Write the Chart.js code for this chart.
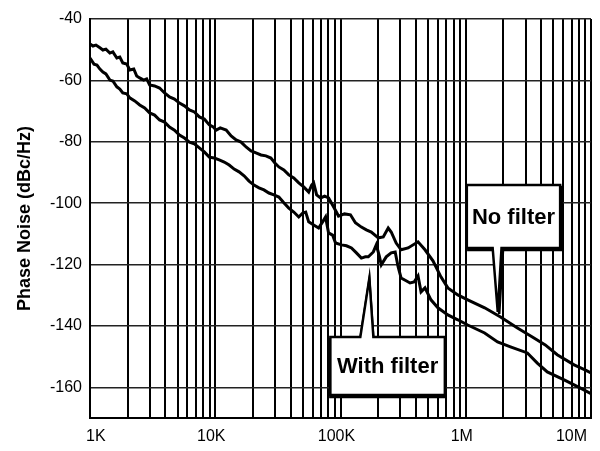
<!DOCTYPE html>
<html><head><meta charset="utf-8">
<script src="https://cdn.jsdelivr.net/npm/chart.js@4.4.1/dist/chart.umd.min.js"></script>
<style>html,body{margin:0;padding:0;background:#fff;}canvas{display:block;}</style>
</head><body>
<canvas id="c" width="600" height="451"></canvas>
<script>
const seriesNames = ['No filter', 'With filter'];
const noFilterFreq = [1000,1056,1116,1200,1268,1340,1441,1522,1638,1730,
  1828,1966,2077,2235,2361,2494,2683,2834,2994,3280,
  3594,3938,4315,4727,5180,5675,6218,6813,7464,8178,
  8961,9641,10180,10960,12230,13390,14680,16080,17620,19310,
  21150,23180,25390,27820,29940,32200,35280,38660,42360,46420,
  50850,55720,58870,61050,64490,69390,74650,80320,87990,96410,
  107600,120100,131500,146800,160800,176200,200300,219500,240400,254000,
  278300,304900,346500,415900,472700,547200,633400,719700,864100,1037000,
  1415000,1896000,2587000,3402000,4313000,5373000,7330000,8961000,10000000];
const noFilterDb = [-48.1,-48.8,-48.5,-49.4,-50.1,-49.8,-51.1,-50.7,-52.7,-52.4,
  -54.3,-54.7,-56.6,-56.3,-58.6,-59.2,-59.9,-59.5,-61.5,-61.8,
  -62.5,-64.1,-65.4,-66.1,-67.4,-68.3,-69.6,-70.3,-71.9,-72.6,
  -74.5,-75.2,-76.2,-75.5,-76.2,-78.1,-79.4,-80.1,-81.7,-83.0,
  -83.6,-84.3,-84.6,-85.3,-86.9,-88.2,-89.2,-90.8,-91.8,-93.4,
  -94.7,-96.4,-94.1,-93.4,-97.3,-98.3,-97.7,-98.3,-101.2,-104.2,
  -103.5,-103.8,-106.4,-107.8,-108.7,-109.4,-111.3,-111.0,-108.1,-109.4,
  -113.0,-115.2,-114.6,-112.6,-115.2,-118.8,-124.0,-127.6,-129.9,-131.5,
  -134.1,-137.1,-140.7,-143.6,-146.2,-149.4,-152.7,-154.3,-155.3];
const withFilterFreq = [1000,1076,1136,1200,1268,1340,1441,1522,1638,1730,
  1828,1966,2077,2276,2494,2732,2994,3280,3594,3938,
  4315,4727,5180,5675,6218,6813,7464,8178,8961,9819,
  10760,11790,12920,14150,15500,16990,18610,20390,22350,24480,
  26830,29390,32200,35280,38660,42360,46420,49940,52750,55720,
  61050,66900,71970,76030,80320,86420,91280,101800,111600,122300,
  134000,146800,157900,166800,182800,193100,204000,211600,231800,254000,
  273300,288600,304900,334100,359300,386700,415900,439600,472700,527500,
  599500,719700,864100,1037000,1415000,1795000,2276000,3105000,3728000,4476000,
  6105000,8178000,10000000];
const withFilterDb = [-52.7,-54.7,-55.0,-56.3,-57.3,-57.9,-59.9,-60.2,-62.1,-62.8,
  -64.1,-64.4,-65.7,-66.7,-68.0,-69.0,-70.6,-71.3,-72.9,-73.6,
  -75.2,-76.2,-77.8,-78.8,-80.1,-80.7,-82.0,-83.3,-85.0,-85.3,
  -85.9,-86.6,-87.6,-88.9,-89.8,-91.1,-92.8,-94.1,-95.0,-95.7,
  -96.7,-97.3,-98.0,-99.9,-101.6,-102.9,-104.5,-103.2,-102.9,-106.1,
  -107.1,-108.1,-106.1,-104.5,-109.7,-110.4,-113.0,-113.6,-113.9,-114.6,
  -116.2,-117.9,-117.5,-117.5,-115.9,-113.6,-117.2,-120.1,-117.5,-116.2,
  -115.9,-120.8,-124.4,-125.3,-126.0,-125.7,-123.7,-128.9,-127.6,-131.5,
  -134.1,-136.4,-138.0,-139.7,-142.3,-145.2,-146.8,-148.8,-152.1,-155.0,
  -157.6,-160.2,-162.1];
const xDecades = [1e3, 1e4, 1e5, 1e6, 1e7];
const xTickLabels = ['1K', '10K', '100K', '1M', '10M'];
const yTicks = [-40, -60, -80, -100, -120, -140, -160];
const yLabel = 'Phase Noise (dBc/Hz)';

// callout boxes (data coordinates)
const callouts = [
  {text: 'No filter', box: [1.02e6, 5.67e6, -94.1, -114.6], base: [1.64e6, 1.93e6], tip: [1.8e6, -135.4], side: 'bottom', shadow: [1.5, 2]},
  {text: 'With filter', box: [8.3e4, 6.81e5, -143.6, -162.5], base: [1.44e5, 1.83e5], tip: [1.7e5, -124.4], side: 'top', shadow: [0, 2]}
];

Chart.defaults.font.family = '"Liberation Sans", Arial, Helvetica, sans-serif';
Chart.defaults.color = '#000';

const calloutPlugin = {
  id: 'callouts',
  afterDatasetsDraw(chart) {
    const {ctx, scales: {x, y}} = chart;
    callouts.forEach(c => {
      const L = x.getPixelForValue(c.box[0]), R = x.getPixelForValue(c.box[1]);
      const T = y.getPixelForValue(c.box[2]), B = y.getPixelForValue(c.box[3]);
      const bl = x.getPixelForValue(c.base[0]), br = x.getPixelForValue(c.base[1]);
      const tx = x.getPixelForValue(c.tip[0]), ty = y.getPixelForValue(c.tip[1]);
      const path = (dx, dy) => {
        ctx.beginPath();
        if (c.side === 'top') {
          ctx.moveTo(L + dx, T + dy); ctx.lineTo(bl + dx, T + dy); ctx.lineTo(tx + dx, ty + dy);
          ctx.lineTo(br + dx, T + dy); ctx.lineTo(R + dx, T + dy); ctx.lineTo(R + dx, B + dy); ctx.lineTo(L + dx, B + dy);
        } else {
          ctx.moveTo(L + dx, T + dy); ctx.lineTo(R + dx, T + dy); ctx.lineTo(R + dx, B + dy); ctx.lineTo(br + dx, B + dy);
          ctx.lineTo(tx + dx, ty + dy); ctx.lineTo(bl + dx, B + dy); ctx.lineTo(L + dx, B + dy);
        }
        ctx.closePath();
      };
      ctx.save();
      ctx.lineJoin = 'miter';
      path(c.shadow[0], c.shadow[1]);
      ctx.lineWidth = 2.5; ctx.strokeStyle = '#000'; ctx.stroke();
      path(0, 0);
      ctx.fillStyle = '#fff'; ctx.fill();
      ctx.lineWidth = 2.5; ctx.strokeStyle = '#000'; ctx.stroke();
      ctx.font = 'bold 22px "Liberation Sans", Arial, sans-serif';
      ctx.fillStyle = '#000'; ctx.textAlign = 'center'; ctx.textBaseline = 'middle';
      ctx.fillText(c.text, (L + R) / 2, (T + B) / 2 + 1);
      ctx.restore();
    });
  }
};

const bgPlugin = {
  id: 'bg',
  beforeDraw(chart) {
    const ctx = chart.ctx;
    ctx.save(); ctx.fillStyle = '#fff'; ctx.fillRect(0, 0, chart.width, chart.height); ctx.restore();
  }
};

const toPoints = (xs, ys) => xs.map((v, i) => ({x: v, y: ys[i]}));

new Chart(document.getElementById('c'), {
  type: 'line',
  data: {
    datasets: [
      {label: seriesNames[0], data: toPoints(noFilterFreq, noFilterDb), borderColor: '#000', borderWidth: 3, pointRadius: 0, tension: 0, fill: false},
      {label: seriesNames[1], data: toPoints(withFilterFreq, withFilterDb), borderColor: '#000', borderWidth: 3, pointRadius: 0, tension: 0, fill: false}
    ]
  },
  options: {
    responsive: false,
    animation: false,
    devicePixelRatio: 1,
    layout: {padding: {top: 19, right: 6, left: 0, bottom: 0}},
    plugins: {legend: {display: false}, tooltip: {enabled: false}},
    scales: {
      x: {
        type: 'logarithmic', min: 1e3, max: 1e7,
        afterBuildTicks(scale) {
          const t = [];
          for (let d = 0; d < xDecades.length - 1; d++) {
            for (let m = 1; m < 10; m++) t.push({value: xDecades[d] * m});
          }
          t.push({value: xDecades[xDecades.length - 1]});
          scale.ticks = t;
        },
        ticks: {
          autoSkip: false, maxRotation: 0, minRotation: 0, align: 'inner', labelOffset: -4, padding: 9,
          color: '#000', font: {size: 16},
          callback(v) { const i = xDecades.indexOf(v); return i >= 0 ? xTickLabels[i] : ''; }
        },
        grid: {color: '#000', lineWidth: 2, drawTicks: false},
        border: {display: true, color: '#000', width: 2},
        afterFit(scale) { scale.height = 33; }
      },
      y: {
        type: 'linear', min: -170, max: -40,
        afterBuildTicks(scale) { scale.ticks = yTicks.map(v => ({value: v})); },
        ticks: {padding: 8, color: '#000', font: {size: 16}},
        grid: {color: '#222', lineWidth: 1.5, drawTicks: false},
        border: {display: true, color: '#000', width: 2},
        title: {display: true, text: yLabel, color: '#000', font: {size: 18, weight: 'bold'}, padding: {top: 14, bottom: 0}},
        afterFit(scale) { scale.width = 90; }
      }
    }
  },
  plugins: [bgPlugin, calloutPlugin]
});
</script>
</body></html>
